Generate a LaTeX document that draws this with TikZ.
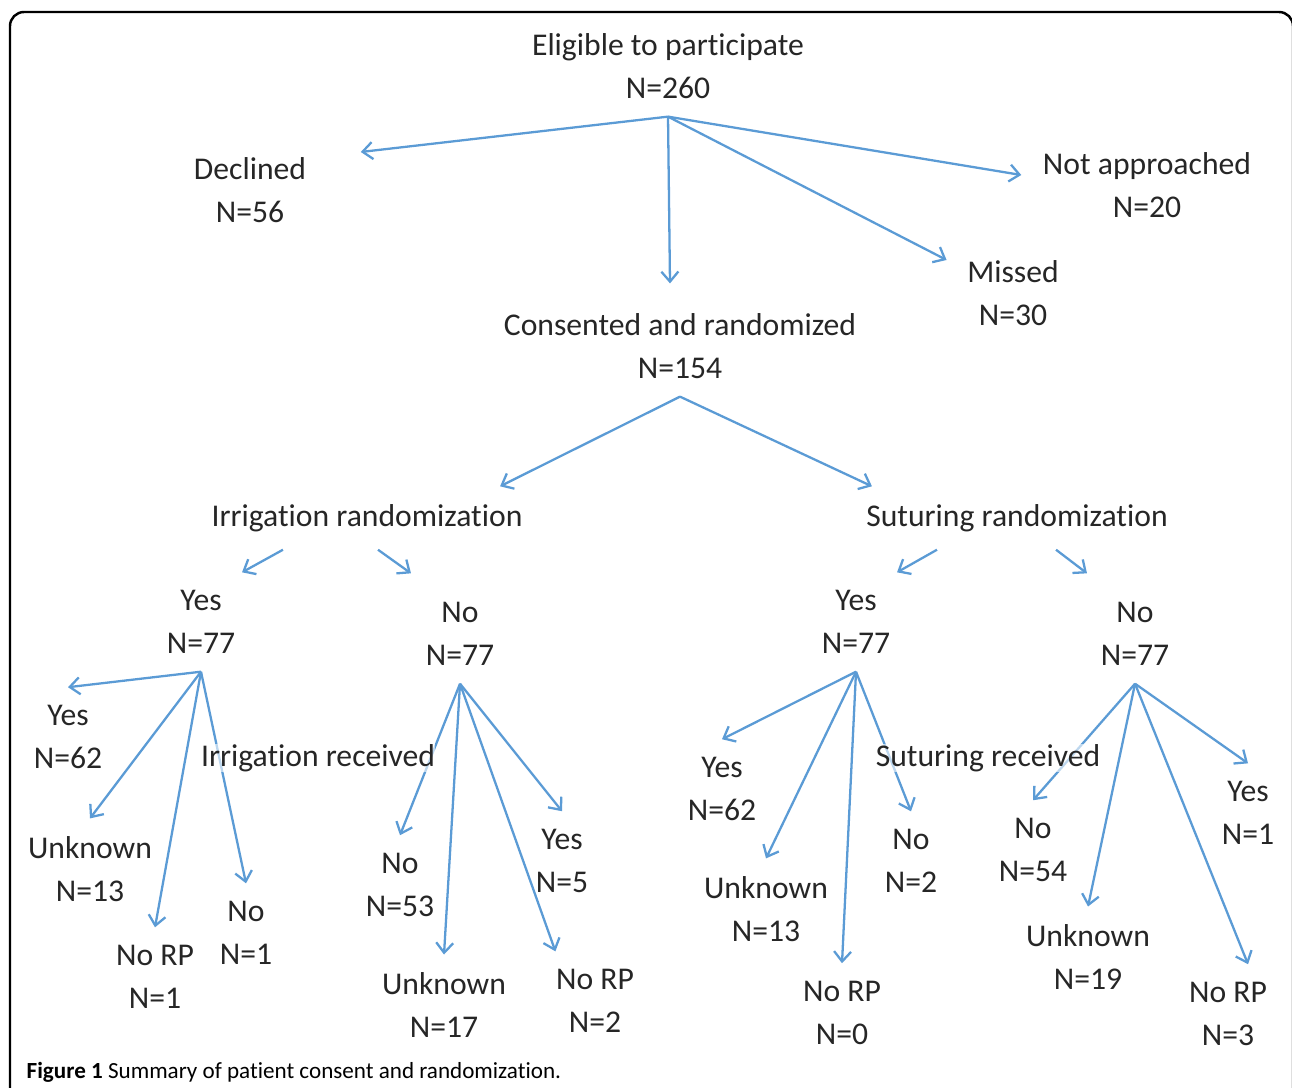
\documentclass[tikz,border=0pt]{standalone}
\usepackage{fontspec}
\setmainfont{Carlito}[Ligatures={NoCommon,NoRequired,NoContextual}, Contextuals=NoAlternate, RawFeature=-dlig]
\usetikzlibrary{arrows.meta}
\definecolor{arrblue}{RGB}{91,155,213}
\definecolor{txtgray}{RGB}{38,38,38}

\begin{document}
\begin{tikzpicture}[x=0.01cm, y=-0.01cm,
    every node/.style={font=\fontsize{9}{12.24}\selectfont, text=txtgray, align=center,
      inner sep=0pt, outer ysep=0.18cm},
    arr/.style={draw=arrblue, line width=0.65pt, -{Straight Barb[length=0.1cm,width=0.17cm]}},
    recv/.style={fill=white, fill opacity=0.6, text opacity=1}]

  \useasboundingbox (0,0) rectangle (1292,1087);
  \draw[line width=0.7pt, rounded corners=0.14cm] (10,1100) -- (10,12) -- (1293,12) -- (1293,1100);

  \node (elig) at (668,66) {Eligible to participate\\N=260};
    \node (decl) at (250,190) {Declined\\N=56};
    \node (notapp) at (1147,185) {Not approached\\N=20};
    \node (missed) at (1013,293) {Missed\\N=30};
  \node (cons) at (680,346) {Consented and randomized\\N=154};

  \draw[arr] (elig.south) -- ([xshift=0.54cm,yshift=0.38cm]decl.east);
  \draw[arr] (elig.south) -- ([xshift=-0.21cm,yshift=0.1cm]notapp.west);
  \draw[arr] (elig.south) -- ([xshift=-0.1cm,yshift=0.12cm]cons.north);
  \draw[arr] (elig.south) -- ([xshift=-0.2cm,yshift=0.33cm]missed.west);

  \node (irr) at (367,518) {Irrigation randomization};
  \node (sut) at (1017,518) {Suturing randomization};
  \draw[arr] (cons.south) -- ([xshift=1.33cm]irr.north);
  \draw[arr] (cons.south) -- ([xshift=-1.45cm]sut.north);

  % irrigation
  \node (irr_yes) at (201,622) {Yes\\N=77};
  \node (irr_no) at (460,634) {No\\N=77};
  \draw[arr] ([xshift=-0.84cm]irr.south) -- ([xshift=0.41cm]irr_yes.north);
  \draw[arr] ([xshift=0.11cm]irr.south) -- ([xshift=-0.49cm,yshift=0.11cm]irr_no.north);

  \node (iy_yes) at (68,737) {Yes\\N=62};
  \node (iy_unk) at (90,869) {Unknown\\N=13};
  \node (iy_norp) at (155,977) {No RP\\N=1};
  \node (iy_no) at (246,933) {No\\N=1};
  \draw[arr] (irr_yes.south) -- (iy_yes.north);
  \draw[arr] (irr_yes.south) -- (iy_unk.north);
  \draw[arr] (irr_yes.south) -- (iy_norp.north);
  \draw[arr] (irr_yes.south) -- (iy_no.north);

  \node (in_no) at (400,885) {No\\N=53};
  \node (in_unk) at (444,1005) {Unknown\\N=17};
  \node (in_norp) at (595,1001) {No RP\\N=2};
  \node (in_yes) at (562,861) {Yes\\N=5};
  \draw[arr] (irr_no.south) -- (in_no.north);
  \draw[arr] (irr_no.south) -- (in_unk.north);
  \draw[arr] (irr_no.south) -- (in_norp.north west);
  \draw[arr] (irr_no.south) -- (in_yes.north);

  \node[recv] (irr_rec) at (318,758) {Irrigation received};

  % suturing
  \node (sut_yes) at (856,622) {Yes\\N=77};
  \node (sut_no) at (1135,634) {No\\N=77};
  \draw[arr] ([xshift=-0.8cm]sut.south) -- ([xshift=0.41cm]sut_yes.north);
  \draw[arr] ([xshift=0.39cm]sut.south) -- ([xshift=-0.48cm,yshift=0.11cm]sut_no.north);

  \node (sy_yes) at (722,789) {Yes\\N=62};
  \node (sy_unk) at (766,909) {Unknown\\N=13};
  \node (sy_norp) at (842,1013) {No RP\\N=0};
  \node (sy_no) at (911,861) {No\\N=2};
  \draw[arr] (sut_yes.south) -- (sy_yes.north);
  \draw[arr] (sut_yes.south) -- (sy_unk.north);
  \draw[arr] (sut_yes.south) -- (sy_norp.north);
  \draw[arr] (sut_yes.south) -- (sy_no.north);

  \node (sn_no) at (1033,850) {No\\N=54};
  \node (sn_unk) at (1088,957) {Unknown\\N=19};
  \node (sn_norp) at (1228,1014) {No RP\\N=3};
  \node (sn_yes) at (1248,813) {Yes\\N=1};
  \draw[arr] (sut_no.south) -- (sn_no.north);
  \draw[arr] (sut_no.south) -- (sn_unk.north);
  \draw[arr] (sut_no.south) -- ([xshift=0.2cm]sn_norp.north);
  \draw[arr] (sut_no.south) -- (sn_yes.north);

  \node[recv] (sut_rec) at (988,758) {Suturing received};

  \node[anchor=west, font=\fontsize{6.57}{7.5}\selectfont, text=black, outer ysep=0pt] (cap) at (26,1072)
    {\textbf{Figure 1} Summary of patient consent and randomization.};
\end{tikzpicture}
\end{document}
